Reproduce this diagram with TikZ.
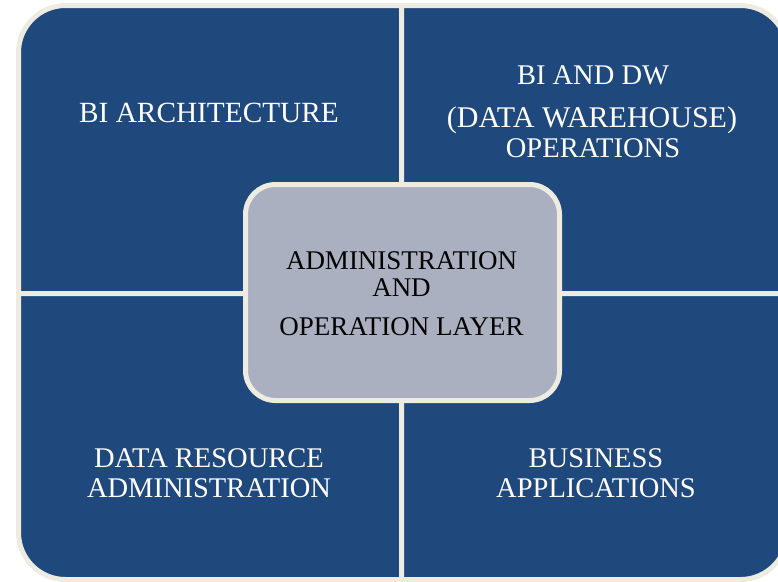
\documentclass[tikz,border=0pt]{standalone}
\usepackage{fontspec}
\setmainfont{Liberation Serif}
\definecolor{qblue}{RGB}{31,73,125}
\definecolor{cream}{RGB}{238,236,225}
\definecolor{cgray}{RGB}{170,176,192}
\begin{document}
\begin{tikzpicture}[x=1pt,y=-1pt,
  quad/.style={fill=qblue,draw=cream,line width=5pt},
  qtext/.style={text=white,inner sep=0pt,anchor=base,font=\fontsize{28.5}{30}\selectfont},
  ctext/.style={text=black,inner sep=0pt,anchor=base,font=\fontsize{27}{29}\selectfont},
  centerbox/.style={draw=cream,fill=cgray,line width=5pt,rounded corners=30pt,
    minimum width=314pt,minimum height=216pt,inner sep=0pt}]
\useasboundingbox (0,0) rectangle (778,581);
\clip (0,0) rectangle (778,581);
% quadrants
\path[quad] (18.5,293.5) [rounded corners=47pt] -- (18.5,5.5) [sharp corners] -- (401.5,5.5) -- (401.5,293.5) -- cycle;
\path[quad] (401.5,5.5) [rounded corners=47pt] -- (787.5,5.5) [sharp corners] -- (787.5,293.5) -- (401.5,293.5) -- cycle;
\path[quad] (18.5,293.5) [rounded corners=47pt] -- (18.5,579.5) [sharp corners] -- (401.5,579.5) -- (401.5,293.5) -- cycle;
\path[quad] (401.5,293.5) -- (787.5,293.5) [rounded corners=47pt] -- (787.5,579.5) [sharp corners] -- (401.5,579.5) -- cycle;
% centre
\node[centerbox] (ctr) at (402.5,292.5) {};
% texts
\node[qtext,font=\fontsize{29.3}{30}\selectfont] (tl) at (209,122) {BI ARCHITECTURE};
\node[qtext] (tr1) at (593,84) {BI AND DW};
\node[qtext,font=\fontsize{30}{30}\selectfont] (tr2) at (592,127) {(DATA WAREHOUSE)};
\node[qtext] (tr3) at (593,157) {OPERATIONS};
\node[qtext] (bl1) at (209,467) {DATA RESOURCE};
\node[qtext] (bl2) at (209,497) {ADMINISTRATION};
\node[qtext] (br1) at (596,467) {BUSINESS};
\node[qtext] (br2) at (596,497) {APPLICATIONS};
\node[ctext] (c1) at (401.5,269) {ADMINISTRATION};
\node[ctext] (c2) at (401.5,296) {AND};
\node[ctext] (c3) at (401.5,335) {OPERATION LAYER};
\end{tikzpicture}
\end{document}
